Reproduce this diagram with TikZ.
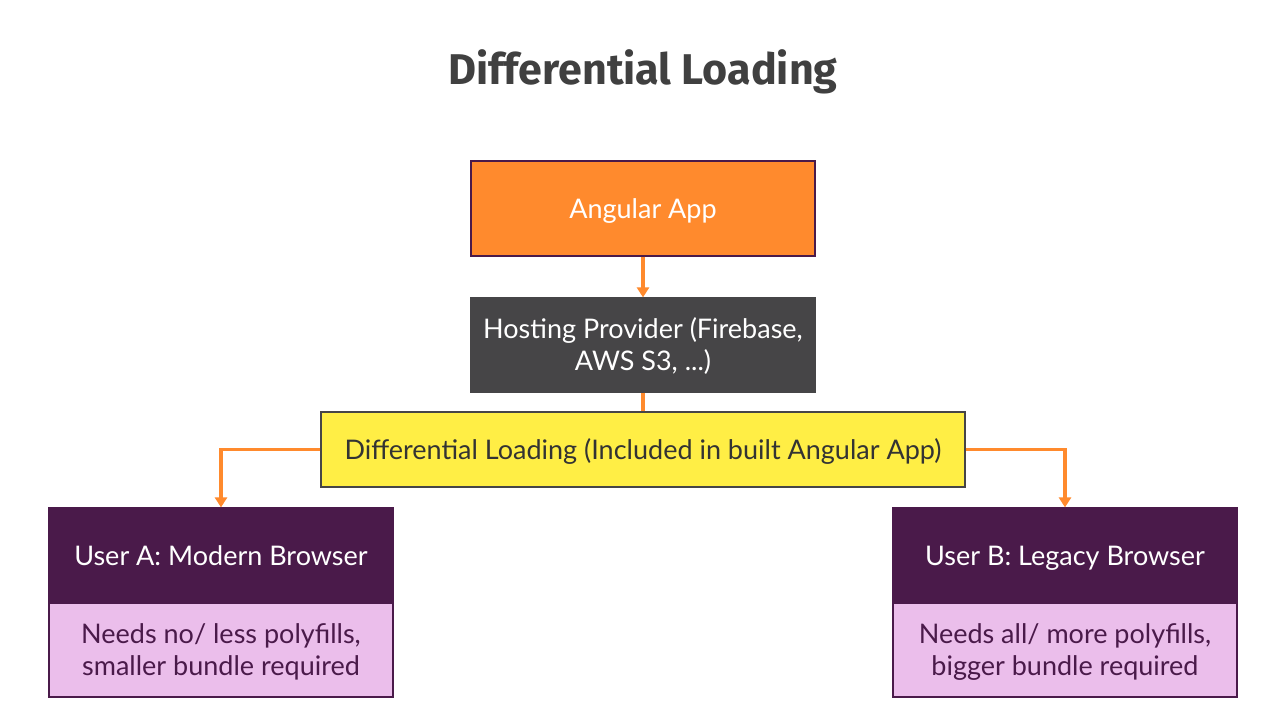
\documentclass[tikz,border=0pt]{standalone}
\usepackage{fontspec}
\setmainfont{Lato}
\newfontfamily\titlefont{Fira Sans}
\usetikzlibrary{arrows.meta}
\definecolor{orangeC}{HTML}{FF8A2D}
\definecolor{grayC}{HTML}{464547}
\definecolor{yellowC}{HTML}{FFEE45}
\definecolor{purpleC}{HTML}{4A1A4A}
\definecolor{pinkC}{HTML}{EBBEEB}
\definecolor{titleC}{HTML}{404040}
\definecolor{textC}{HTML}{333333}
\newcommand\mys{\rule[-5.8pt]{0pt}{31pt}}
\tikzset{
  box/.style={draw=purpleC, line width=1.2pt, minimum width=344pt, minimum height=95pt, align=center, inner sep=0pt, font=\fontsize{27}{30}\selectfont},
  conn/.style={draw=orangeC, line width=3.2pt},
  arr/.style={conn, -{Triangle[length=10pt, width=12pt]}},
}
\begin{document}
\begin{tikzpicture}[x=1pt, y=-1pt]
\useasboundingbox[fill=white] (0,0) rectangle (1286,726);
\node[text=titleC, font=\titlefont\bfseries\fontsize{43}{50}\selectfont] (title) at (643,72) {Differential Loading};
\node[box, fill=orangeC, text=white] (app) at (643,208.5) {\mys Angular App};
\node[box, draw=grayC, fill=grayC, text=white, minimum height=94pt] (host) at (643,345) {\mys Hosting Provider (Firebase,\\AWS S3, ...)\mys};
\node[box, draw=grayC, fill=yellowC, text=textC, minimum width=644pt, minimum height=75pt] (dl) at (643,449.5) {\mys Differential Loading (Included in built Angular App)};
\node[box, fill=purpleC, text=white] (ua) at (221,555.5) {\mys User A: Modern Browser};
\node[box, fill=pinkC, text=purpleC, minimum height=94pt] (uan) at (221,650) {\mys Needs no/ less polyfills,\\smaller bundle required\mys};
\node[box, fill=purpleC, text=white] (ub) at (1065,555.5) {\mys User B: Legacy Browser};
\node[box, fill=pinkC, text=purpleC, minimum height=94pt] (ubn) at (1065,650) {\mys Needs all/ more polyfills,\\bigger bundle required\mys};
\draw[arr] (app.south) -- (host.north);
\draw[conn] (host.south) -- (dl.north);
\draw[arr] (dl.west) -| (ua.north);
\draw[arr] (dl.east) -| (ub.north);
\end{tikzpicture}
\end{document}
